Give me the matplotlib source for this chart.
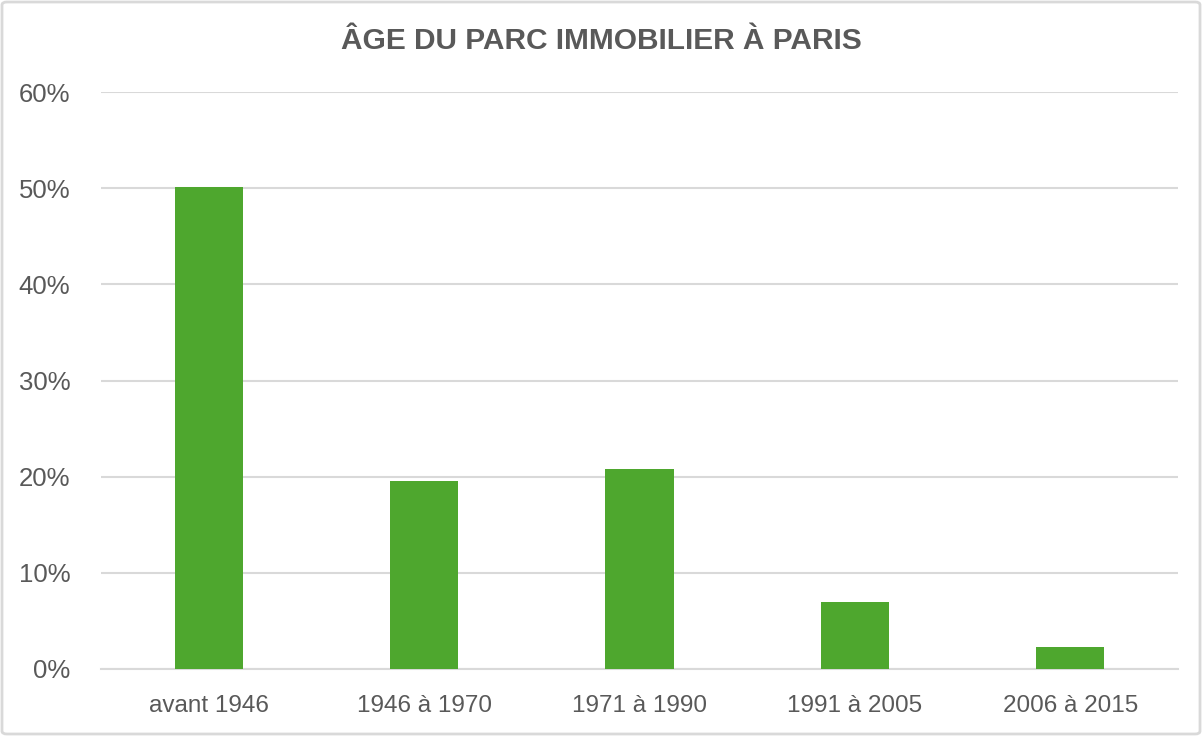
import matplotlib
matplotlib.use("Agg")
import matplotlib.pyplot as plt
from matplotlib.patches import FancyBboxPatch
from matplotlib.ticker import FuncFormatter

categories = ["avant 1946", "1946 à 1970", "1971 à 1990", "1991 à 2005", "2006 à 2015"]
values = [0.501, 0.196, 0.208, 0.070, 0.023]
yticks = [0, 0.1, 0.2, 0.3, 0.4, 0.5, 0.6]
title = "ÂGE DU PARC IMMOBILIER À PARIS"

fam = ["Liberation Sans Narrow", "Liberation Sans", "DejaVu Sans"]
plt.rcParams["font.family"] = fam
txt = "#595959"

fig = plt.figure(figsize=(12.02, 7.36), dpi=100)
ax = fig.add_axes([101/1202, 1-669/736, (1178-101)/1202, (669-92)/736])

x = list(range(len(categories)))
ax.bar(x, values, width=0.316, color="#4EA72E", zorder=3)
ax.set_xlim(-0.5, len(categories)-0.5)
ax.set_ylim(0, 0.6)
ax.set_yticks(yticks)
ax.yaxis.set_major_formatter(FuncFormatter(lambda v, p: f"{v*100:.0f}%"))
ax.set_xticks(x)
ax.set_xticklabels(categories)
ax.grid(axis="y", color="#D9D9D9", linewidth=1.5, zorder=0)
for s in ["top", "right", "left"]:
    ax.spines[s].set_visible(False)
ax.spines["bottom"].set_color("#D9D9D9")
ax.spines["bottom"].set_linewidth(1.5)
ax.tick_params(axis="both", length=0, colors=txt)
ax.tick_params(axis="y", labelsize=18.5, pad=22)
ax.tick_params(axis="x", labelsize=17.5, pad=19)

fig.text(0.5, 1-41/736, title, ha="center", va="center", fontsize=21.5,
         fontweight="bold", color=txt)

border = FancyBboxPatch((2/1202, 2/736), 1-4/1202, 1-4/736,
                        boxstyle="round,pad=0,rounding_size=0.004",
                        transform=fig.transFigure, fill=False,
                        edgecolor="#D9D9D9", linewidth=2)
fig.patches.append(border)

fig.savefig("out.png", dpi=100)
